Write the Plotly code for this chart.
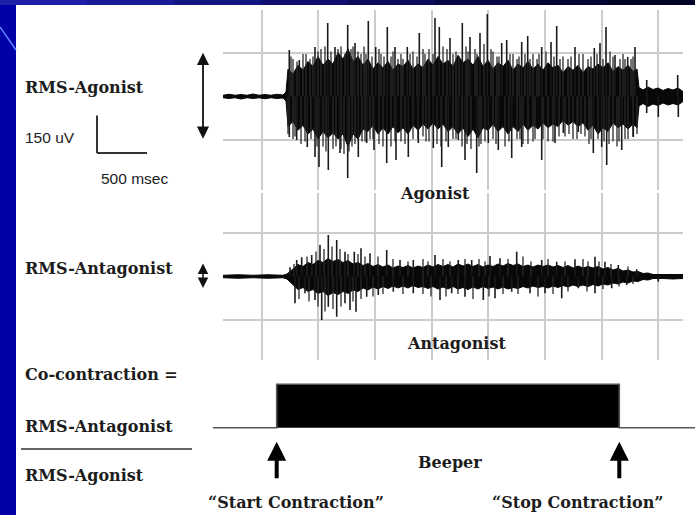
import plotly.graph_objects as go

W, H = 695, 515

# ---------------- data ----------------
# time in ms from the start of the recording, amplitude in microvolts
AGO_T = [0, 60, 120, 180, 240, 300, 360, 420, 480, 540, 600, 630,
         650, 700, 750, 800, 850, 900, 950, 1000, 1050, 1100, 1150, 1200, 1250, 1300,
         1350, 1400, 1450, 1500, 1550, 1600, 1650, 1700, 1750, 1800, 1850, 1900, 1950,
         2000, 2050, 2100, 2150, 2200, 2250, 2300, 2350, 2400, 2450, 2500, 2550, 2600,
         2650, 2700, 2750, 2800, 2850, 2900, 2950, 3000, 3050, 3100, 3150, 3200, 3250,
         3300, 3350, 3400, 3450, 3500, 3550, 3600, 3650, 3700, 3750, 3800, 3850, 3900,
         3950, 4000, 4050, 4100, 4140,
         4160, 4200, 4250, 4300, 4350, 4400, 4450, 4500, 4550, 4600]
AGO_UP = [5, 9, 5, 8, 5, 10, 5, 8, 5, 9, 6, 18,
          110, 90, 125, 105, 140, 120, 160, 125, 150, 130,
          175, 150, 190, 140, 160, 125, 150, 110, 135, 115,
          140, 105, 130, 120, 145, 110, 130, 115, 150, 125,
          160, 130, 145, 120, 165, 135, 150, 125, 160, 120,
          145, 110, 135, 120, 145, 105, 130, 115, 140, 110,
          130, 105, 135, 115, 125, 95, 120, 105, 125, 95,
          120, 110, 130, 115, 135, 100, 120, 105, 125, 100, 110,
          36, 26, 38, 28, 34, 24, 32, 26, 34, 20]
AGO_DN = [5, 8, 5, 10, 5, 8, 5, 9, 5, 8, 6, 18,
          120, 100, 135, 115, 150, 130, 170, 140, 165, 145,
          170, 150, 200, 150, 170, 130, 140, 115, 150, 125,
          150, 120, 145, 125, 150, 115, 135, 110, 130, 105,
          130, 110, 140, 120, 150, 125, 160, 130, 165, 125,
          135, 110, 140, 120, 150, 120, 140, 110, 135, 115,
          130, 105, 125, 110, 120, 95, 115, 100, 120, 105,
          135, 115, 150, 125, 140, 105, 125, 110, 130, 110, 125,
          38, 28, 40, 30, 36, 26, 34, 28, 34, 20]

AGO_PEAK_UP_T = [663, 763, 920, 1047, 1120, 1247, 1320, 1453, 1527, 1643, 1720, 1843,
                 1963, 2120, 2163, 2270, 2393, 2470, 2570, 2643, 2787, 2837, 2987, 3047,
                 3187, 3280, 3337, 3520, 3713, 3770, 3830, 3920, 4047, 4120, 4237, 4547]
AGO_PEAK_UP_V = [186, 146, 198, 294, 198, 286, 214, 302, 198, 278, 198, 198,
                 254, 314, 278, 234, 294, 238, 254, 330, 214, 226, 218, 242,
                 198, 218, 282, 198, 194, 214, 278, 166, 158, 198, 66, 86]
AGO_PEAK_DN_T = [663, 737, 843, 920, 960, 1053, 1170, 1247, 1353, 1437, 1510, 1637,
                 1730, 1853, 1953, 2103, 2187, 2253, 2353, 2420, 2537, 2653, 2753, 2887,
                 2987, 3187, 3320, 3403, 3553, 3703, 3787, 3837, 3987, 4103, 4237, 4353, 4553]
AGO_PEAK_DN_V = [162, 174, 202, 242, 282, 294, 226, 326, 242, 186, 214, 266,
                 254, 242, 186, 206, 282, 202, 174, 254, 306, 186, 214, 246,
                 202, 254, 186, 146, 142, 226, 202, 274, 214, 162, 66, 82, 82]
# smaller peaks that fill the fringe of the burst
AGO_MINOR_UP_T = [700, 830, 870, 980, 1080, 1180, 1280, 1380, 1410, 1490, 1580, 1680,
                  1780, 1800, 1900, 2020, 2060, 2200, 2330, 2430, 2520, 2610, 2700, 2740,
                  2900, 2940, 3100, 3140, 3230, 3400, 3450, 3600, 3650, 3870, 3970, 4000,
                  4080,
                  680, 740, 800, 900, 950, 1020, 1150, 1220, 1300, 1350, 1430, 1560,
                  1610, 1700, 1750, 1870, 1940, 2000, 2100, 2240, 2300, 2360, 2450, 2540,
                  2680, 2760, 2870, 2960, 3020, 3070, 3160, 3310, 3370, 3480, 3560, 3680,
                  3740, 3800, 3900, 4020, 4100]
AGO_MINOR_UP_V = [150, 170, 150, 190, 180, 200, 190, 170, 200, 160, 170, 160,
                  170, 150, 180, 170, 190, 200, 180, 200, 190, 210, 180, 160,
                  170, 150, 170, 150, 180, 160, 150, 170, 150, 180, 150, 170,
                  150,
                  160, 140, 170, 160, 180, 200, 190, 170, 200, 180, 170, 190,
                  160, 180, 150, 170, 160, 190, 170, 190, 170, 160, 180, 170,
                  190, 160, 170, 160, 170, 150, 170, 160, 150, 160, 170, 160,
                  170, 150, 160, 150, 160]
AGO_MINOR_DN_T = [700, 780, 880, 1000, 1100, 1210, 1290, 1390, 1470, 1560, 1680, 1780,
                  1900, 2000, 2060, 2140, 2300, 2390, 2480, 2580, 2700, 2820, 2940, 3050,
                  3120, 3250, 3360, 3460, 3500, 3620, 3660, 3750, 3900, 3940, 4050, 4140,
                  650, 720, 820, 940, 1030, 1130, 1180, 1260, 1320, 1420, 1500, 1600,
                  1720, 1820, 1950, 2030, 2180, 2230, 2330, 2440, 2560, 2620, 2730, 2860,
                  2970, 3000, 3100, 3200, 3300, 3420, 3540, 3580, 3680, 3810, 3860, 3960,
                  4020, 4100]
AGO_MINOR_DN_V = [170, 190, 170, 200, 210, 230, 200, 180, 170, 190, 200, 180,
                  170, 160, 180, 190, 170, 200, 210, 190, 170, 200, 170, 190,
                  170, 180, 160, 150, 170, 160, 190, 170, 180, 200, 170, 150,
                  150, 160, 180, 200, 220, 200, 210, 220, 190, 180, 170, 200,
                  180, 190, 170, 180, 200, 180, 170, 190, 200, 180, 190, 180,
                  170, 190, 180, 170, 180, 160, 170, 150, 170, 180, 190, 180,
                  170, 160]

ANT_T = [0, 150, 300, 450, 600, 640,
         700, 750, 800, 850, 900, 950, 1000, 1050, 1100, 1150, 1200, 1250, 1300, 1350,
         1400, 1450, 1500, 1550, 1600, 1650, 1700, 1750, 1800, 1850, 1900, 1950, 2000,
         2050, 2100, 2150, 2200, 2250, 2300, 2350, 2400, 2450, 2500, 2550, 2600, 2650,
         2700, 2750, 2800, 2850, 2900, 2950, 3000, 3050, 3100, 3150, 3200, 3250, 3300,
         3350, 3400, 3450, 3500, 3550, 3600, 3650, 3700, 3750, 3800, 3850, 3900, 3950,
         4000, 4050, 4100, 4150, 4200, 4250, 4300,
         4400, 4500, 4600]
ANT_UP = [5, 7, 5, 7, 5, 10,
          30, 48, 40, 56, 48, 64, 56, 72, 60, 68,
          56, 64, 50, 56, 44, 52, 40, 48, 38, 46,
          34, 42, 36, 44, 34, 42, 36, 46, 38, 48,
          40, 48, 38, 50, 42, 50, 40, 48, 38, 46,
          40, 50, 42, 52, 44, 50, 40, 46, 38, 46,
          40, 46, 38, 44, 36, 44, 34, 42, 34, 40,
          34, 40, 30, 36, 26, 32, 22, 26, 18, 20,
          12, 14, 8,
          8, 6, 8]
ANT_DN = [5, 7, 5, 7, 5, 10,
          34, 52, 44, 60, 52, 68, 60, 76, 64, 72,
          60, 68, 54, 60, 46, 54, 42, 50, 40, 48,
          38, 46, 38, 46, 36, 44, 40, 48, 40, 50,
          42, 50, 40, 50, 44, 52, 42, 50, 40, 48,
          42, 50, 42, 50, 44, 48, 40, 46, 38, 44,
          40, 46, 38, 44, 36, 42, 34, 40, 34, 40,
          32, 38, 30, 34, 26, 30, 22, 26, 18, 20,
          12, 14, 8,
          8, 10, 8]

ANT_PEAK_UP_T = [670, 737, 787, 887, 970, 1053, 1137, 1220, 1313, 1380, 1470, 1637, 1770,
                 1903, 2120, 2353, 2487, 2670, 2770, 2937, 3187, 3337, 3520, 3720, 3820,
                 3953, 4137]
ANT_PEAK_UP_V = [37, 66, 77, 86, 126, 166, 146, 99, 99, 113, 93, 106, 66,
                 66, 86, 66, 66, 82, 73, 99, 66, 59, 69, 79, 59, 46, 29]
ANT_PEAK_DN_T = [720, 820, 920, 987, 1053, 1137, 1220, 1270, 1330, 1437, 1553, 1703, 1903,
                 2170, 2287, 2420, 2603, 2720, 2887, 3070, 3220, 3387, 3553, 3720, 3887,
                 4037, 4353]
ANT_PEAK_DN_V = [107, 67, 94, 174, 121, 161, 107, 134, 141, 81, 74, 61, 67,
                 94, 67, 81, 94, 87, 61, 67, 67, 87, 47, 67, 47, 34, 21]
ANT_MINOR_UP_T = [710, 840, 930, 1010, 1090, 1170, 1250, 1350, 1420, 1550, 1700, 1850,
                  2000, 2050, 2200, 2270, 2420, 2560, 2620, 2850, 3000, 3080, 3250, 3420,
                  3600, 3650, 3760, 3880, 4050]
ANT_MINOR_UP_V = [50, 80, 100, 110, 120, 110, 90, 90, 80, 80, 70, 60,
                  70, 60, 70, 60, 70, 70, 60, 70, 80, 60, 70, 60,
                  70, 60, 60, 50, 40]
ANT_MINOR_DN_T = [760, 860, 950, 1020, 1100, 1180, 1300, 1380, 1500, 1600, 1800, 2000,
                  2080, 2230, 2350, 2500, 2660, 2800, 2950, 3150, 3300, 3450, 3640, 3800,
                  3960, 4100]
ANT_MINOR_DN_V = [90, 100, 120, 140, 130, 120, 100, 90, 80, 70, 70, 70,
                  80, 80, 70, 90, 80, 70, 70, 80, 70, 60, 60, 50,
                  40, 30]

AGO_RMS = 175          # microvolts
ANT_RMS = 52           # microvolts
GRID_UV = [-175, 175]
GRID_STEP_MS = 566.6

BEEPER_T = [-100, 537, 537, 3963, 3963, 4720]
BEEPER_V = [0, 0, 1, 1, 0, 0]
EVENT_T = [537, 3963]

SCALE_MS = 500
SCALE_UV = 150

# ---------------- styling helpers ----------------
SERIF = "DejaVu Serif"
SANS = "Liberation Sans"
INK = "#1c1c1c"
GRID = "#cccccc"


def px(x):
    return x / W


def py(y):
    return 1 - y / H


def band(t, up, dn):
    return t + t[::-1], up + [-v for v in dn[::-1]]


def peaks(tu, vu, td, vd):
    xs, ys = [], []
    for t, v in zip(tu, vu):
        xs += [t, t, None]
        ys += [0, v, None]
    for t, v in zip(td, vd):
        xs += [t, t, None]
        ys += [0, -v, None]
    return xs, ys


fig = go.Figure()


def add_emg(t, up, dn, major, minor, xa, ya):
    bx, by = band(t, up, dn)
    fig.add_trace(go.Scatter(x=bx, y=by, fill="toself", fillcolor="#080808", mode="lines",
                             line=dict(color="#080808", width=1), xaxis=xa, yaxis=ya))
    sx, sy = peaks(*minor)
    fig.add_trace(go.Scatter(x=sx, y=sy, mode="lines", line=dict(color="#2a2a2a", width=1.3),
                             xaxis=xa, yaxis=ya))
    sx, sy = peaks(*major)
    fig.add_trace(go.Scatter(x=sx, y=sy, mode="lines", line=dict(color="#1a1a1a", width=1.6),
                             xaxis=xa, yaxis=ya))


add_emg(AGO_T, AGO_UP, AGO_DN,
        (AGO_PEAK_UP_T, AGO_PEAK_UP_V, AGO_PEAK_DN_T, AGO_PEAK_DN_V),
        (AGO_MINOR_UP_T, AGO_MINOR_UP_V, AGO_MINOR_DN_T, AGO_MINOR_DN_V), "x", "y")
add_emg(ANT_T, ANT_UP, ANT_DN,
        (ANT_PEAK_UP_T, ANT_PEAK_UP_V, ANT_PEAK_DN_T, ANT_PEAK_DN_V),
        (ANT_MINOR_UP_T, ANT_MINOR_UP_V, ANT_MINOR_DN_T, ANT_MINOR_DN_V), "x2", "y2")

# beeper
fig.add_trace(go.Scatter(x=BEEPER_T, y=BEEPER_V, mode="lines", fill="tozeroy",
                         fillcolor="#000000", line=dict(color="#555555", width=1.6),
                         xaxis="x3", yaxis="y3"))

ann = []
# event arrows
for t in EVENT_T:
    ann.append(dict(x=t, y=0, xref="x3", yref="y3", ax=0, ay=52, text="",
                    showarrow=True, arrowhead=2, arrowwidth=4, arrowsize=0.95,
                    arrowcolor="#000000", standoff=14))
# RMS double arrows
for rms, yref in [(AGO_RMS, "y"), (ANT_RMS, "y2")]:
    big = rms > 100
    ann.append(dict(x=-200, y=rms, xref="x3", yref=yref, ax=-200, ay=-rms,
                    axref="x3", ayref=yref, text="", showarrow=True,
                    arrowside="end+start", arrowhead=2, startarrowhead=2,
                    arrowwidth=1.8 if big else 1.5,
                    arrowsize=1.35 if big else 1.4,
                    startarrowsize=1.35 if big else 1.4,
                    arrowcolor="#111111"))


def label(text, x, y, size=16, family=SERIF, anchor="left", bold=True):
    ann.append(dict(text=text, x=px(x), y=py(y), xref="paper", yref="paper",
                    showarrow=False, xanchor=anchor, yanchor="middle",
                    font=dict(family=family, size=size, color=INK,
                              weight="bold" if bold else "normal")))


label("RMS-Agonist", 23, 87)
label("150 uV", 23, 137, size=15.5, family=SANS, bold=False)
label("500 msec", 99, 178, size=15.5, family=SANS, bold=False)
label("RMS-Antagonist", 23, 268)
label("Co-contraction =", 23, 374)
label("RMS-Antagonist", 23, 426)
label("RMS-Agonist", 23, 475)
label("Agonist", 435, 193, anchor="center")
label("Antagonist", 457, 343, anchor="center")
label("Beeper", 450, 462, anchor="center")
label("\u201cStart Contraction\u201d", 296, 502, anchor="center")
label("\u201cStop Contraction\u201d", 578, 502, anchor="center")

shapes = []
# slide background decoration
shapes.append(dict(type="rect", xref="paper", yref="paper", x0=0, x1=px(16), y0=0, y1=1,
                   fillcolor="#0000a6", line=dict(width=0), layer="below"))
top_cols = ["#1e1ea6", "#1a1a96", "#151584", "#101070", "#0c0c5c", "#080848",
            "#050536", "#020226"]
n = len(top_cols)
for i, c in enumerate(top_cols):
    shapes.append(dict(type="rect", xref="paper", yref="paper", x0=i / n, x1=(i + 1) / n + 0.002,
                       y0=py(5), y1=1, fillcolor=c, line=dict(width=0), layer="below"))
shapes.append(dict(type="line", xref="paper", yref="paper", x0=0, y0=py(27), x1=px(16),
                   y1=py(50), line=dict(color="#5a82ff", width=1.5)))
# fraction bar
shapes.append(dict(type="line", xref="paper", yref="paper", x0=px(21), x1=px(192),
                   y0=py(449), y1=py(449), line=dict(color="#333333", width=1.6)))
# scale bar (anchored on the agonist amplitude axis)
sb_t, sb_v = -1260, -226
shapes.append(dict(type="line", xref="x3", yref="y", x0=sb_t, x1=sb_t, y0=sb_v,
                   y1=sb_v + SCALE_UV, line=dict(color="#333333", width=2)))
shapes.append(dict(type="line", xref="x3", yref="y", x0=sb_t, x1=sb_t + SCALE_MS,
                   y0=sb_v, y1=sb_v, line=dict(color="#333333", width=2)))

common_x = dict(showticklabels=False, ticks="", zeroline=False, showline=False,
                tickmode="linear", dtick=GRID_STEP_MS, showgrid=True, gridcolor=GRID,
                gridwidth=1.5, range=[0, 4600], domain=[px(223), px(683)])
common_y = dict(showticklabels=False, ticks="", zeroline=False, showline=False,
                tickmode="array", tickvals=GRID_UV, showgrid=True, gridcolor=GRID,
                gridwidth=1.5)

fig.update_layout(
    width=W, height=H, autosize=False,
    margin=dict(l=0, r=0, t=0, b=0, pad=0),
    paper_bgcolor="white", plot_bgcolor="rgba(0,0,0,0)",
    showlegend=False, hovermode=False,
    xaxis=dict(common_x, anchor="y", tick0=GRID_STEP_MS + 387),
    yaxis=dict(common_y, anchor="x", domain=[py(190), py(10)], range=[-374, 346]),
    xaxis2=dict(common_x, anchor="y2", tick0=387),
    yaxis2=dict(common_y, anchor="x2", domain=[py(360), py(193)], range=[-334, 334]),
    xaxis3=dict(anchor="y3", domain=[0, 1], range=[-2230, 4720], visible=False),
    yaxis3=dict(anchor="x3", domain=[0, py(362)], range=[-2.0115, 1.514], visible=False),
    annotations=ann,
    shapes=shapes,
)

fig.write_html("out.html")
